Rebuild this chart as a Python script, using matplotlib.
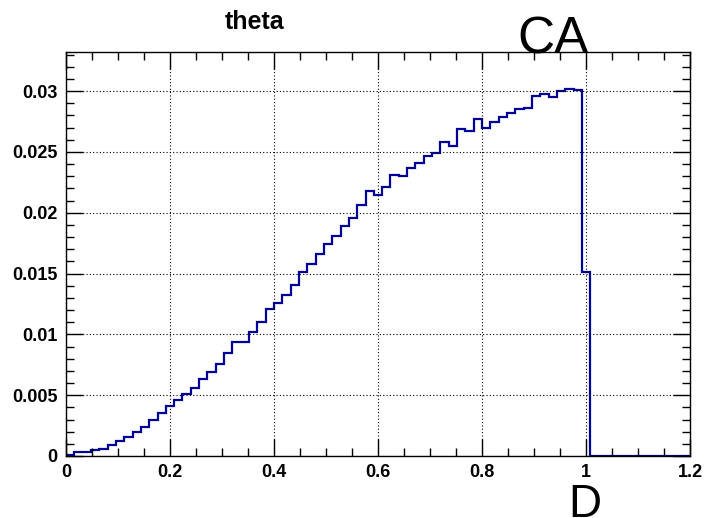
import numpy as np
import matplotlib
matplotlib.use("Agg")
import matplotlib.pyplot as plt
from matplotlib.ticker import MultipleLocator, FixedLocator

# Histogram "theta": 75 bins over [0, 1.2]
N_BINS = 75
X_RANGE = (0.0, 1.2)
counts = [
    0.0001, 0.0003, 0.0003, 0.0005, 0.0006, 0.00088, 0.0012, 0.0016, 0.00195, 0.0024,
    0.0030, 0.0035, 0.0041, 0.0046, 0.0051, 0.0056, 0.0063, 0.0069, 0.0076, 0.0085,
    0.0094, 0.0094, 0.0102, 0.0110, 0.0121, 0.0126, 0.0132, 0.0141, 0.0151, 0.0158,
    0.0166, 0.0174, 0.0181, 0.0189, 0.0196, 0.0206, 0.0218, 0.0215, 0.0221, 0.0231,
    0.0230, 0.0237, 0.0241, 0.0247, 0.0249, 0.0258, 0.0255, 0.0269, 0.0267, 0.0277,
    0.0270, 0.0275, 0.0279, 0.0282, 0.0285, 0.0286, 0.0296, 0.0298, 0.0295, 0.0300,
    0.0302, 0.0301, 0.0151,
]
counts = counts + [0.0] * (N_BINS - len(counts))
edges = np.linspace(X_RANGE[0], X_RANGE[1], N_BINS + 1)

x_ticks = [0, 0.2, 0.4, 0.6, 0.8, 1.0, 1.2]
x_labels = ["0", "0.2", "0.4", "0.6", "0.8", "1", "1.2"]
y_ticks = [0, 0.005, 0.01, 0.015, 0.02, 0.025, 0.03]
y_labels = ["0", "0.005", "0.01", "0.015", "0.02", "0.025", "0.03"]

plt.rcParams['font.family'] = ['Liberation Sans', 'DejaVu Sans']

fig = plt.figure(figsize=(7.04, 5.18), dpi=100)
ax = fig.add_axes([66 / 704, 62 / 518, 624 / 704, 404 / 518])

ax.stairs(counts, edges, baseline=0, color='#000099', linewidth=1.6)

ax.set_xlim(*X_RANGE)
ax.set_ylim(0, max(counts) * 1.1)

ax.xaxis.set_major_locator(FixedLocator(x_ticks))
ax.yaxis.set_major_locator(FixedLocator(y_ticks))
ax.set_xticklabels(x_labels, fontweight='bold', fontsize=13)
ax.set_yticklabels(y_labels, fontweight='bold', fontsize=13)
ax.xaxis.set_minor_locator(MultipleLocator(0.05))
ax.yaxis.set_minor_locator(MultipleLocator(0.001))

ax.tick_params(which='both', direction='in', top=True, right=True, color='black')
ax.tick_params(which='major', length=12, width=1, pad=6)
ax.tick_params(which='minor', length=6, width=1)

ax.grid(True, which='major', color='black', linestyle=(0, (1, 2)), linewidth=0.8)
for s in ax.spines.values():
    s.set_linewidth(1)

fig.text(255 / 704, 1 - 22 / 518, "theta", fontsize=18, fontweight='bold',
         ha='center', va='center')
fig.text(553 / 704, 1 - 40 / 518, "CA", fontsize=37, ha='center', va='center')
fig.text(585 / 704, 1 - 505 / 518, "D", fontsize=33, ha='center', va='center')

fig.savefig("out.png", dpi=100)
